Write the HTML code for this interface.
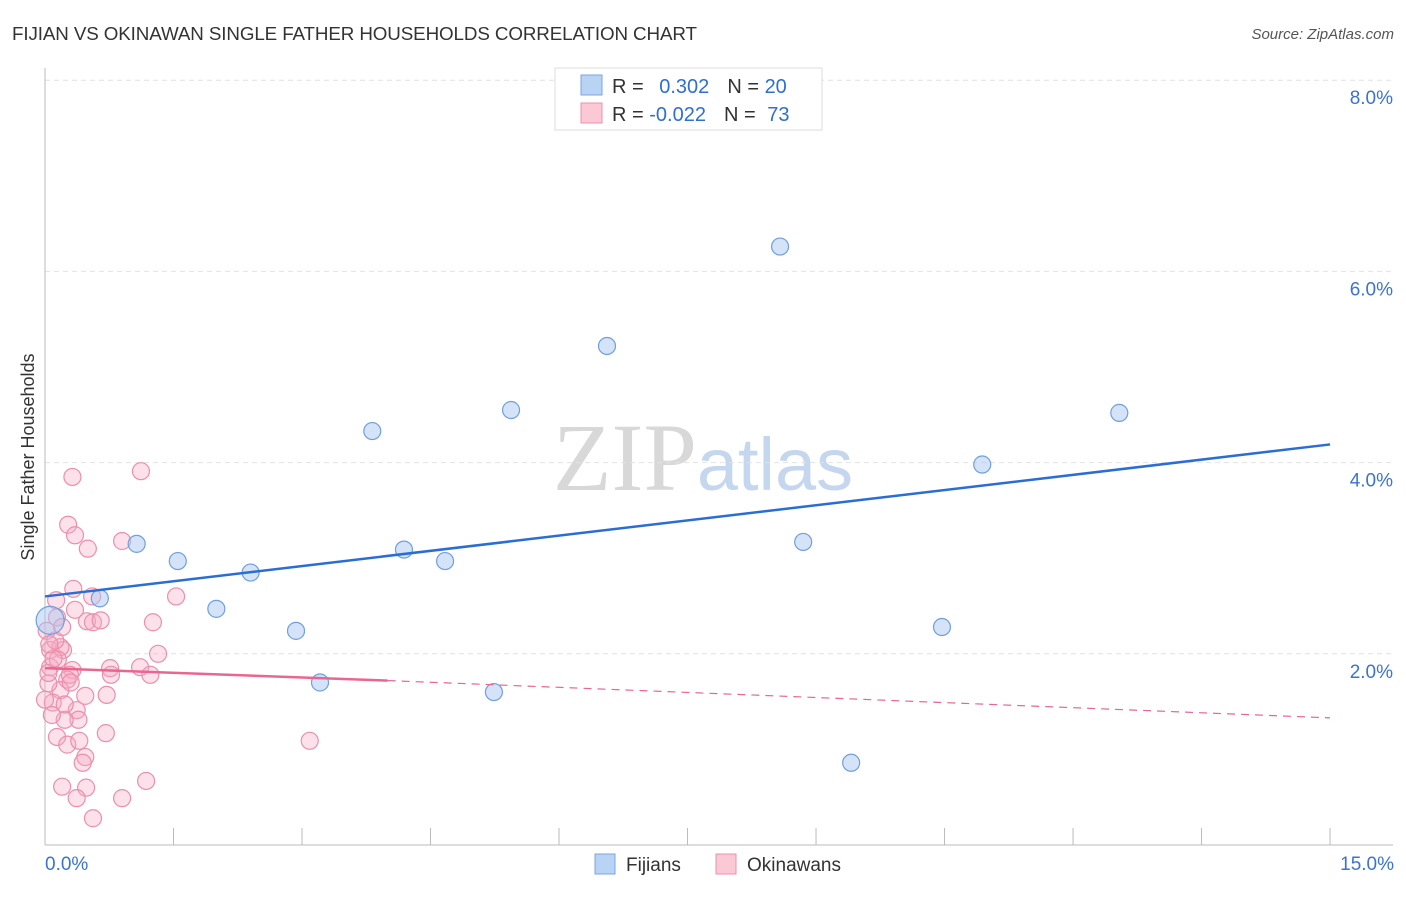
<!DOCTYPE html>
<html><head><meta charset="utf-8"><style>
body{margin:0;background:#fff;font-family:"Liberation Sans",sans-serif;}
svg text{font-family:"Liberation Sans",sans-serif;}
</style></head><body>
<svg id="chart" width="1406" height="892" xmlns="http://www.w3.org/2000/svg">
<text x="12" y="40" font-size="18.8" fill="#333" textLength="685">FIJIAN VS OKINAWAN SINGLE FATHER HOUSEHOLDS CORRELATION CHART</text>
<text x="1394" y="39" font-size="15" fill="#555" text-anchor="end" font-style="italic">Source: ZipAtlas.com</text>
<text x="703" y="490" font-size="96" text-anchor="middle"><tspan fill="#d8d8d8" font-family="Liberation Serif">ZIP</tspan><tspan fill="#c5d7ef" font-size="74">atlas</tspan></text>
<g id="grid"></g>
<g id="axes"></g>
<g id="points"></g>
<g id="lines"></g>
<text transform="translate(34,457) rotate(-90)" font-size="18" fill="#333" text-anchor="middle">Single Father Households</text>
<g>
<rect x="555" y="68" width="267" height="62" fill="#fff" stroke="#ddd"/>
<rect x="581" y="75" width="21" height="20" fill="#b9d3f5" stroke="#7aa5e0"/>
<rect x="581" y="103" width="21" height="20" fill="#fbc8d6" stroke="#ec8fab"/>
<text x="612" y="93" font-size="20" fill="#333">R = <tspan fill="#2f6fd0" dx="10">0.302</tspan><tspan dx="18" fill="#333">N = </tspan><tspan fill="#2f6fd0">20</tspan></text>
<text x="612" y="121" font-size="20" fill="#333">R = <tspan fill="#2f6fd0">-0.022</tspan><tspan dx="18" fill="#333">N = </tspan><tspan fill="#2f6fd0" dx="6">73</tspan></text>
</g>
<g>
<rect x="595" y="854" width="20" height="20" fill="#b9d3f5" stroke="#7aa5e0"/>
<text x="626" y="871" font-size="19" fill="#333">Fijians</text>
<rect x="716" y="854" width="20" height="20" fill="#fbc8d6" stroke="#ec8fab"/>
<text x="747" y="871" font-size="19" fill="#333">Okinawans</text>
</g>
</svg>
<script>
const xTicks=[0,15];
const yTicks=[2,4,6,8];
const fijX=[1.07,1.55,2.40,2.00,2.93,3.21,3.82,4.19,4.67,5.24,5.44,6.56,8.58,8.85,9.41,10.47,10.94,12.54,0.64,0.06];
const fijY=[3.15,2.97,2.85,2.47,2.24,1.70,4.33,3.09,2.97,1.60,4.55,5.22,6.26,3.17,0.86,2.28,3.98,4.52,2.58,2.35];
const okiX=[0.32,1.12,0.27,0.35,0.50,0.90,0.33,0.55,0.35,0.49,0.56,0.65,1.26,1.53,0.14,1.32,1.11,1.23,0.76,0.77,0.72,0.47,0.32,0.26,0.18,0.09,0.06,0.06,0.21,0.04,0.18,0.37,0.39,0.23,0.14,0.26,0.40,0.47,0.44,0.71,0.20,0.48,0.37,0.56,0.90,1.18,3.09,0.02,0.12,0.00,0.15,0.04,0.23,0.08,0.29,0.13,0.20,0.10,0.30,0.05];
const okiY=[3.85,3.91,3.35,3.24,3.10,3.18,2.68,2.60,2.46,2.34,2.33,2.35,2.33,2.60,2.38,2.00,1.86,1.78,1.85,1.78,1.57,1.56,1.83,1.73,1.62,1.49,1.86,2.04,2.04,1.69,2.07,1.41,1.31,1.31,1.13,1.05,1.09,0.92,0.86,1.17,0.61,0.60,0.49,0.28,0.49,0.67,1.09,2.24,2.14,1.52,1.94,1.80,1.47,1.36,1.78,2.56,2.28,1.95,1.70,2.10];
const fijTrend=[2.60,4.19];
const okiTrend=[1.85,1.72,1.33];
const okiTrendX=[0,4.0,15];
const NS="http://www.w3.org/2000/svg";
const sx=v=>45+v*85.67, sy=v=>845-v*95.6;
function mk(tag,attrs,parent){const e=document.createElementNS(NS,tag);for(const k in attrs)e.setAttribute(k,attrs[k]);document.getElementById(parent).appendChild(e);return e;}
yTicks.forEach(t=>{
 const g=mk('line',{x1:45,x2:1393,y1:sy(t),y2:sy(t),stroke:'#e2e2e2','stroke-dasharray':'5,4'},'grid');
 
 
 const l=mk('text',{x:1393,y:sy(t)+24,'font-size':19,fill:'#3a74d0','text-anchor':'end'},'axes');
 l.textContent=t.toFixed(1)+'%';
 
 
});
const ya=mk('line',{x1:45,x2:45,y1:68,y2:845,stroke:'#bbb'},'axes');


const xa=mk('line',{x1:45,x2:1393,y1:845,y2:845,stroke:'#bbb'},'axes');


for(let i=1;i<=10;i++){mk('line',{x1:sx(i*1.5),x2:sx(i*1.5),y1:828,y2:845,stroke:'#bbb'},'axes');}
xTicks.forEach((t,i)=>{
 const l=mk('text',{x:i?1394:45,y:870,'font-size':19,fill:'#3a74d0','text-anchor':i?'end':'start'},'axes');
 l.textContent=t.toFixed(1)+'%';
 
 
});
okiX.forEach((x,i)=>{
 const c=mk('circle',{cx:sx(x),cy:sy(okiY[i]),r:8.5,fill:'rgba(246,170,195,0.35)',stroke:'#ec8fab','stroke-width':1.2},'points');
 
 
});
fijX.forEach((x,i)=>{
 const c=mk('circle',{cx:sx(x),cy:sy(fijY[i]),r:i==19?14:8.5,fill:'rgba(170,200,240,0.5)',stroke:'#6f9fdf','stroke-width':1.2},'points');
 
 
});
const fl=mk('line',{x1:sx(0),y1:sy(fijTrend[0]),x2:sx(15),y2:sy(fijTrend[1]),stroke:'#2a6dd3','stroke-width':2.5},'lines');


const ol=mk('line',{x1:sx(okiTrendX[0]),y1:sy(okiTrend[0]),x2:sx(okiTrendX[1]),y2:sy(okiTrend[1]),stroke:'#e8668f','stroke-width':2.5},'lines');


const od=mk('line',{x1:sx(okiTrendX[1]),y1:sy(okiTrend[1]),x2:sx(okiTrendX[2]),y2:sy(okiTrend[2]),stroke:'#e8668f','stroke-width':1.2,'stroke-dasharray':'8,6'},'lines');


</script>
</body></html>
